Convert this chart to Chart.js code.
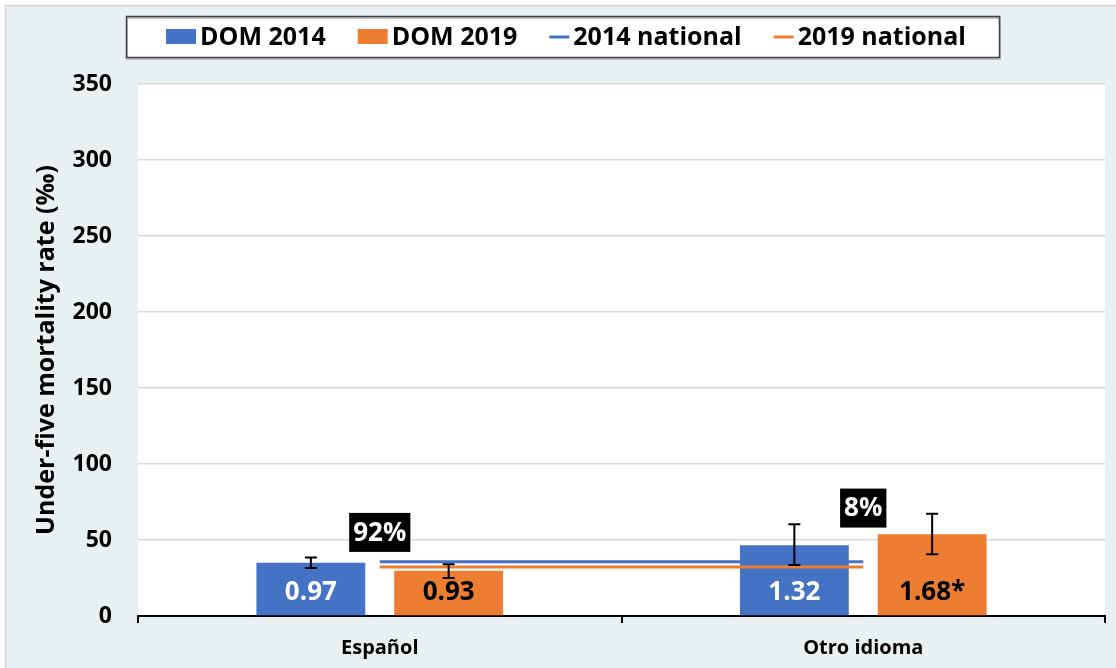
<!DOCTYPE html>
<html>
<head>
<meta charset="utf-8">
<script src="https://cdn.jsdelivr.net/npm/chart.js@4"></script>
<style>
  html, body { margin: 0; padding: 0; background: #ffffff; }
  #wrap { width: 1116px; height: 668px; }
</style>
</head>
<body>
<div id="wrap"><canvas id="chart" width="1116" height="668"></canvas></div>
<script>
// Categories and series
const categories = ['Español', 'Otro idioma'];
const dom2014 = [35, 46.5];
const dom2019 = [29.7, 53.8];

// Confidence intervals
const dom2014Low = [31.5, 33.5];
const dom2014High = [38.5, 60.3];
const dom2019Low = [25, 40.7];
const dom2019High = [34, 67.2];

// National reference lines
const national2014 = [35.7, 35.7];
const national2019 = [32.2, 32.2];

// Labels drawn inside the bars (rate ratios)
const ratio2014 = ['0.97', '1.32'];
const ratio2019 = ['0.93', '1.68*'];

// Population share boxes above each group
const shareLabels = ['92%', '8%'];
const shareValues = [55, 71];

// Y axis ticks
const yTicks = [0, 50, 100, 150, 200, 250, 300, 350];

const BLUE = '#4472C4';
const ORANGE = '#ED7D31';
const FONT = "'Open Sans', 'DejaVu Sans', sans-serif";

// Page background and plot area fill
const backgroundPlugin = {
  id: 'background',
  beforeDraw(chart) {
    const { ctx, chartArea } = chart;
    ctx.save();
    ctx.fillStyle = '#ffffff';
    ctx.fillRect(0, 0, chart.width, chart.height);
    ctx.fillStyle = '#E8F0F2';
    ctx.fillRect(6, 6, chart.width - 6, chart.height - 6);
    ctx.strokeStyle = '#D4D4D4';
    ctx.lineWidth = 1.5;
    ctx.beginPath();
    ctx.moveTo(5.5, chart.height);
    ctx.lineTo(5.5, 5.5);
    ctx.lineTo(chart.width, 5.5);
    ctx.stroke();
    ctx.fillStyle = '#ffffff';
    ctx.fillRect(chartArea.left, chartArea.top, chartArea.right - chartArea.left, chartArea.bottom - chartArea.top);
    ctx.restore();
  }
};

// Custom legend in a framed box
const legendBoxPlugin = {
  id: 'legendBox',
  afterDraw(chart) {
    const { ctx } = chart;
    const items = chart.data.datasets.map(ds => ({
      text: ds.label,
      color: ds.type === 'line' ? ds.borderColor : ds.backgroundColor,
      isLine: ds.type === 'line'
    }));
    ctx.save();
    // frame
    ctx.fillStyle = '#ffffff';
    ctx.fillRect(126, 16, 874, 42);
    ctx.strokeStyle = '#BFBFBF';
    ctx.lineWidth = 2;
    ctx.strokeRect(127, 18, 873, 41);
    ctx.strokeStyle = '#404040';
    ctx.lineWidth = 1.5;
    ctx.strokeRect(126.5, 16.5, 873, 41);

    ctx.font = 'bold 25px ' + FONT;
    ctx.textBaseline = 'middle';
    ctx.textAlign = 'left';
    const gap = 32;
    const widths = items.map(it => (it.isLine ? 20 : 30) + 4 + ctx.measureText(it.text).width);
    const total = widths.reduce((a, b) => a + b, 0) + gap * (items.length - 1);
    let x = 566 - total / 2;
    const y = 37;
    items.forEach((it, i) => {
      if (it.isLine) {
        ctx.fillStyle = it.color;
        ctx.fillRect(x, y - 1.5, 20, 3);
        x += 24;
      } else {
        ctx.fillStyle = it.color;
        ctx.fillRect(x, y - 8, 30, 15);
        x += 34;
      }
      ctx.fillStyle = '#000000';
      ctx.fillText(it.text, x, y + 1);
      x += ctx.measureText(it.text).width + gap;
    });
    ctx.restore();
  }
};

// Error bars, value labels and share boxes
const annotationsPlugin = {
  id: 'annotations',
  afterDatasetsDraw(chart) {
    const { ctx, scales } = chart;
    const yScale = scales.y;
    const xScale = scales.x;
    const bars2014 = chart.getDatasetMeta(0).data;
    const bars2019 = chart.getDatasetMeta(1).data;
    ctx.save();

    // error bars
    const drawErr = (bar, lo, hi) => {
      const x = bar.x;
      const yl = yScale.getPixelForValue(lo);
      const yh = yScale.getPixelForValue(hi);
      ctx.strokeStyle = '#000000';
      ctx.lineWidth = 2;
      ctx.beginPath();
      ctx.moveTo(x, yl); ctx.lineTo(x, yh);
      ctx.moveTo(x - 6, yl); ctx.lineTo(x + 6, yl);
      ctx.moveTo(x - 6, yh); ctx.lineTo(x + 6, yh);
      ctx.stroke();
    };
    categories.forEach((c, i) => {
      drawErr(bars2014[i], dom2014Low[i], dom2014High[i]);
      drawErr(bars2019[i], dom2019Low[i], dom2019High[i]);
    });

    // values inside bars
    ctx.font = 'bold 26px ' + FONT;
    ctx.textAlign = 'center';
    ctx.textBaseline = 'middle';
    const labelY = yScale.getPixelForValue(0) - 23;
    categories.forEach((c, i) => {
      ctx.fillStyle = '#ffffff';
      ctx.fillText(ratio2014[i], bars2014[i].x, labelY);
      ctx.fillStyle = '#000000';
      ctx.fillText(ratio2019[i], bars2019[i].x, labelY);
    });

    // share boxes
    ctx.font = 'bold 26px ' + FONT;
    categories.forEach((c, i) => {
      const cx = xScale.getPixelForValue(i);
      const cy = yScale.getPixelForValue(shareValues[i]);
      const w = ctx.measureText(shareLabels[i]).width + 8;
      const h = 39;
      ctx.fillStyle = '#000000';
      ctx.fillRect(cx - w / 2, cy - h / 2, w, h);
      ctx.fillStyle = '#ffffff';
      ctx.fillText(shareLabels[i], cx, cy + 1);
    });
    ctx.restore();
  }
};

const ctx = document.getElementById('chart').getContext('2d');

const chart = new Chart(ctx, {
  type: 'bar',
  data: {
    labels: categories,
    datasets: [
      {
        type: 'bar',
        label: 'DOM 2014',
        data: dom2014,
        backgroundColor: BLUE,
        order: 2,
        categoryPercentage: 0.57,
        barPercentage: 0.79
      },
      {
        type: 'bar',
        label: 'DOM 2019',
        data: dom2019,
        backgroundColor: ORANGE,
        order: 2,
        categoryPercentage: 0.57,
        barPercentage: 0.79
      },
      {
        type: 'line',
        label: '2014 national',
        data: national2014,
        borderColor: BLUE,
        backgroundColor: BLUE,
        borderWidth: 3,
        pointRadius: 0,
        fill: false,
        order: 1
      },
      {
        type: 'line',
        label: '2019 national',
        data: national2019,
        borderColor: ORANGE,
        backgroundColor: ORANGE,
        borderWidth: 3,
        pointRadius: 0,
        fill: false,
        order: 1
      }
    ]
  },
  options: {
    responsive: false,
    animation: false,
    layout: {
      padding: { left: 8, right: 11, top: 84, bottom: 4 }
    },
    plugins: {
      legend: { display: false },
      tooltip: { enabled: false }
    },
    scales: {
      x: {
        offset: true,
        grid: {
          offset: true,
          drawOnChartArea: false,
          drawTicks: true,
          tickLength: 7,
          color: '#000000',
          lineWidth: 2
        },
        border: { color: '#000000', width: 2 },
        ticks: {
          color: '#000000',
          padding: 13,
          font: { family: FONT, size: 20, weight: 'bold' }
        },
        afterFit(scale) { scale.height = 48; }
      },
      y: {
        min: 0,
        max: 350,
        afterBuildTicks(scale) {
          scale.ticks = yTicks.map(v => ({ value: v }));
        },
        grid: {
          color: '#D9D9D9',
          lineWidth: 1.5,
          drawTicks: false
        },
        border: { display: false },
        ticks: {
          color: '#000000',
          padding: 26,
          font: { family: FONT, size: 23, weight: 'bold' }
        },
        title: {
          display: true,
          text: 'Under-five mortality rate (‰)',
          color: '#000000',
          padding: { top: 24, bottom: 0 },
          font: { family: FONT, size: 25, weight: 'bold' }
        },
        afterFit(scale) { scale.width = 130; }
      }
    }
  },
  plugins: [backgroundPlugin, legendBoxPlugin, annotationsPlugin]
});
</script>
</body>
</html>
